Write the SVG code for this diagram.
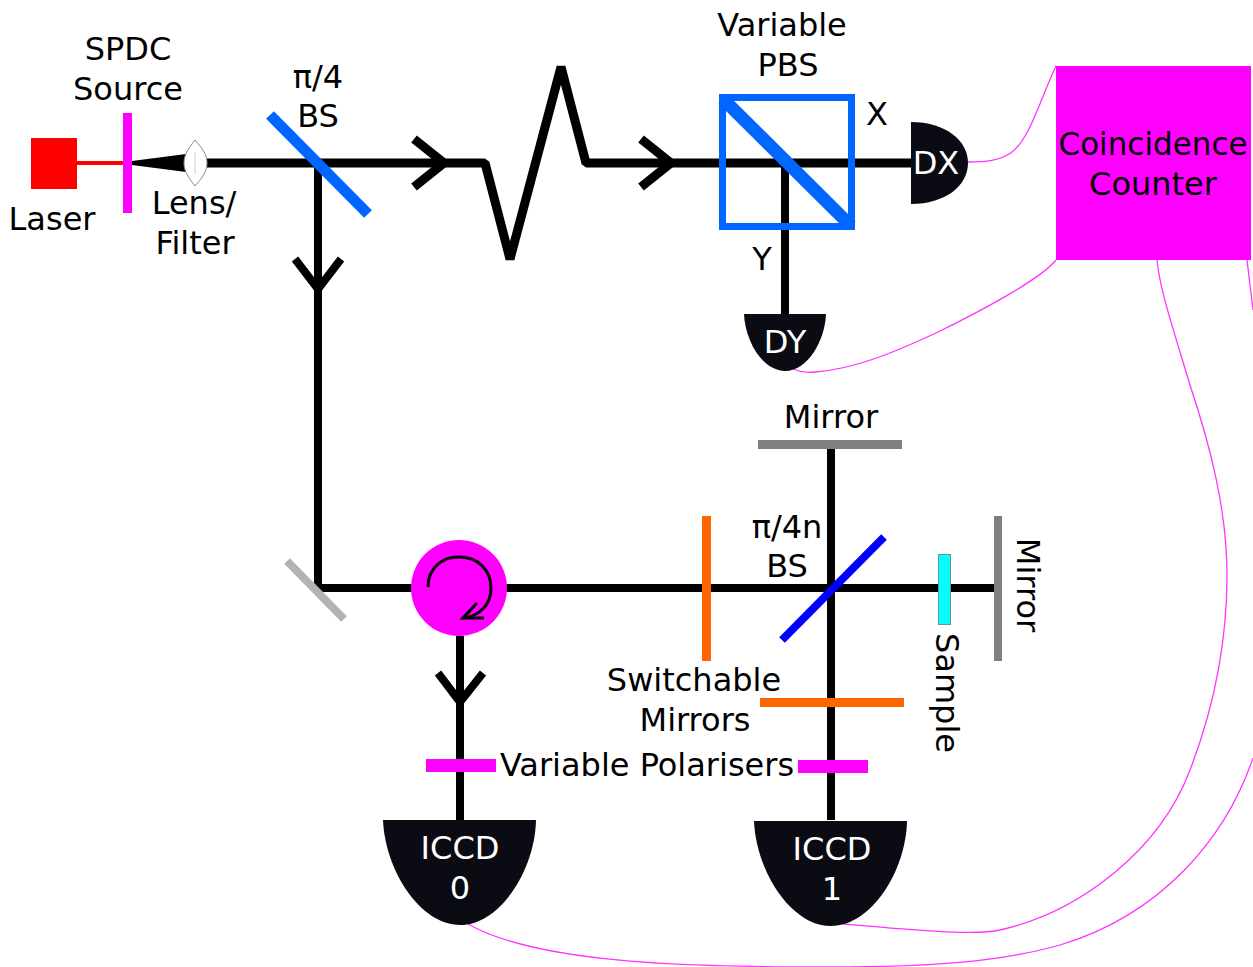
<svg xmlns="http://www.w3.org/2000/svg" width="1253" height="967" viewBox="0 0 1253 967">
<style>
text{font-family:"DejaVu Sans",Verdana,sans-serif;font-size:32px;fill:#000;text-anchor:middle}
.w{fill:#fff}
.beam{fill:none;stroke:#000;stroke-width:8;stroke-linejoin:bevel}
.top{stroke-width:9}
.cable{fill:none;stroke:#ff33ff;stroke-width:1.3}
.det{fill:#0b0b14}
</style>
<rect width="1253" height="967" fill="#fff"/>
<g id="connectors">
<path class="cable" d="M968,162C985,162 1000,161 1012,152C1030,138 1040,100 1056,66"/>
<path class="cable" d="M793,369C800,372 808,373 815,372C855,369 895,352 936,333C975,314 1040,280 1056,260"/>
<path class="cable" d="M1157,260C1160,290 1172,325 1190,385C1210,445 1227,510 1227,575C1227,640 1215,705 1190,770C1160,850 1080,912 1000,930C975,936 900,929 843,924"/>
<path class="cable" d="M1247,260L1253,310"/>
<path class="cable" d="M1253,758C1225,840 1160,915 1060,945C1000,962 930,967 830,967C700,967 540,965 468,924"/>
<path d="M77,163H124" stroke="#f00" stroke-width="4" fill="none"/>
<path class="beam top" d="M207,163H485L510,259L561,67L586,163H911"/>
<path class="beam top" d="M414,139L444,163L414,187"/>
<path class="beam top" d="M641,139L671,163L641,187"/>
<path class="beam" d="M318,163V588H995"/>
<path class="beam" d="M295,259L318,289L341,259"/>
<path class="beam" d="M785,163V314"/>
<path class="beam" d="M831,449V820"/>
<path class="beam" d="M460,636V820"/>
<path class="beam" d="M438,673L460,702L483,673"/>
</g>
<g id="laser"><rect x="31" y="138" width="46" height="51" fill="#f00"/><text x="52" y="230">Laser</text></g>
<g id="spdc"><rect x="123" y="113" width="9" height="100" fill="#ff00ff"/><text x="128" y="60">SPDC</text><text x="128" y="100">Source</text></g>
<g id="lens">
<path d="M132,161L186,154V172L132,165Z" fill="#000"/>
<path d="M195,140C203,149 207,155 207,163C207,171 203,177 195,186C188,177 184,171 184,163C184,155 188,149 195,140Z" fill="#fff" stroke="#888" stroke-width="1"/>
<path d="M195,152V174" stroke="#ccc" stroke-width="1"/>
<text x="194" y="214">Lens/</text><text x="195" y="254">Filter</text>
</g>
<g id="bs1"><path d="M270,115L368,214" stroke="#0066ff" stroke-width="11" fill="none"/><text x="318" y="88">π/4</text><text x="318" y="127">BS</text></g>
<g id="pbs">
<rect x="722.500" y="97.500" width="129" height="129" fill="none" stroke="#0066ff" stroke-width="7"/>
<path d="M723,99L851,226" stroke="#0066ff" stroke-width="13" fill="none"/>
<text x="782" y="36">Variable</text><text x="788" y="76">PBS</text>
<text x="877" y="125">X</text><text x="762" y="270">Y</text>
</g>
<g id="dx"><path class="det" d="M911,122C945,122 968,140 968,163C968,186 945,204 911,204Z"/><text class="w" x="936" y="174">DX</text></g>
<g id="dy"><path class="det" d="M744,314H826C825,340 808,371 785,371C762,371 745,340 744,314Z"/><text class="w" x="785" y="353">DY</text></g>
<g id="counter"><rect x="1056" y="66" width="195" height="194" fill="#ff00ff"/><text x="1153" y="155" textLength="189" lengthAdjust="spacingAndGlyphs">Coincidence</text><text x="1153" y="195">Counter</text></g>
<g id="turn-mirror"><path d="M287,561L344,619" stroke="#b3b3b3" stroke-width="8" fill="none"/></g>
<g id="circulator">
<circle cx="459" cy="588" r="48" fill="#ff00ff"/>
<path d="M428,587C428,568 442,557 459,557C478,557 491,570 491,588C491,604 481,616 462,618" fill="none" stroke="#000" stroke-width="3"/>
<path d="M477,603L463,618L484,618" fill="none" stroke="#000" stroke-width="3"/>
</g>
<g id="switch-a"><rect x="702" y="516" width="9" height="145" fill="#ff6600"/></g>
<g id="bs2"><path d="M782,640L884,537" stroke="#0000ff" stroke-width="8" fill="none"/><text x="787" y="538">π/4n</text><text x="787" y="577">BS</text></g>
<g id="mirror-top"><rect x="758" y="440" width="144" height="9" fill="#808080"/><text x="831" y="428">Mirror</text></g>
<g id="mirror-right"><rect x="994" y="516" width="8" height="145" fill="#808080"/><text transform="translate(1017,585) rotate(90)" x="0" y="0">Mirror</text></g>
<g id="sample"><rect x="938.500" y="554.500" width="12" height="70" fill="#00ffff" stroke="#5a9a9a" stroke-width="1"/><text transform="translate(936,693) rotate(90)" x="0" y="0">Sample</text></g>
<g id="switch-b"><rect x="760" y="698" width="144" height="9" fill="#ff6600"/><text x="694" y="691">Switchable</text><text x="695" y="731">Mirrors</text></g>
<g id="polarisers"><rect x="426" y="759" width="70" height="13" fill="#ff00ff"/><rect x="798" y="760" width="70" height="13" fill="#ff00ff"/><text x="647" y="776">Variable Polarisers</text></g>
<g id="iccd0"><path class="det" d="M383,820H536C535,870 500,925 460,925C420,925 385,870 383,820Z"/><text class="w" x="460" y="859">ICCD</text><text class="w" x="460" y="899">0</text></g>
<g id="iccd1"><path class="det" d="M754,821H907C906,871 871,926 831,926C791,926 756,871 754,821Z"/><text class="w" x="832" y="860">ICCD</text><text class="w" x="832" y="900">1</text></g>
</svg>
